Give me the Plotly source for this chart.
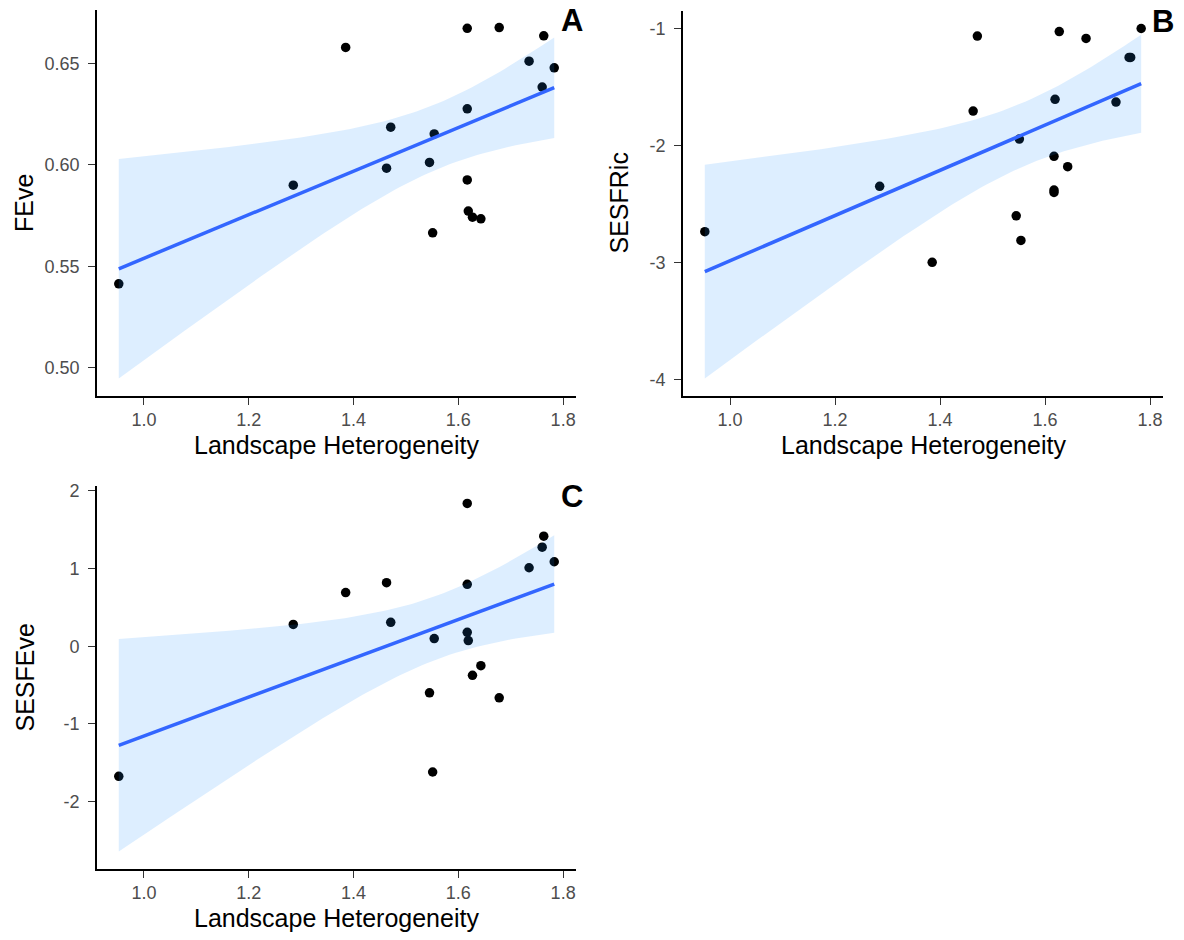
import numpy as np
import plotly.graph_objects as go

# ---------------- data ----------------
heterogeneity = [0.952, 1.285, 1.385, 1.463, 1.471, 1.545, 1.551, 1.554,
                 1.617, 1.617, 1.617, 1.619, 1.627, 1.643, 1.678, 1.735,
                 1.760, 1.763, 1.783]
feve = [0.5413, 0.5900, 0.6580, 0.5984, 0.6186, 0.6012, 0.5665, 0.6153,
        0.6674, 0.6277, 0.5926, 0.5772, 0.5742, 0.5734, 0.6678, 0.6512,
        0.6384, 0.6637, 0.6479]
sesfric = [-2.735, -2.348, -2.997, -1.705, -1.065, -2.600, -1.944, -2.810,
           -2.092, -2.380, -2.400, -1.605, -1.026, -2.180, -1.085, -1.628,
           -1.247, -1.247, -1.000]
sesfeve = [-1.675, 0.281, 0.690, 0.818, 0.307, -0.600, -1.619, 0.098,
           1.838, 0.797, 0.179, 0.073, -0.375, -0.251, -0.665, 1.010,
           1.275, 1.416, 1.087]

x_tickvals = [1.0, 1.2, 1.4, 1.6, 1.8]
x_ticktext = ["1.0", "1.2", "1.4", "1.6", "1.8"]
a_tickvals = [0.50, 0.55, 0.60, 0.65]
a_ticktext = ["0.50", "0.55", "0.60", "0.65"]
b_tickvals = [-4, -3, -2, -1]
b_ticktext = ["-4", "-3", "-2", "-1"]
c_tickvals = [-2, -1, 0, 1, 2]
c_ticktext = ["-2", "-1", "0", "1", "2"]

x_title = "Landscape Heterogeneity"
y_titles = ["FEve", "SESFRic", "SESFEve"]
panel_tags = ["A", "B", "C"]

T975 = 2.109816  # t quantile, df = 17

FONT = "Liberation Sans, Arial, sans-serif"


def lm_fit(x, y, n=80):
    x = np.asarray(x, float)
    y = np.asarray(y, float)
    b1, b0 = np.polyfit(x, y, 1)
    resid = y - (b0 + b1 * x)
    s = np.sqrt(np.sum(resid ** 2) / (len(x) - 2))
    sxx = np.sum((x - x.mean()) ** 2)
    xs = np.linspace(x.min(), x.max(), n)
    ys = b0 + b1 * xs
    se = s * np.sqrt(1 / len(x) + (xs - x.mean()) ** 2 / sxx)
    return xs, ys, ys - T975 * se, ys + T975 * se


def expand(lo, hi, f=0.05):
    d = (hi - lo) * f
    return [lo - d, hi + d]


fig = go.Figure()

series = [feve, sesfric, sesfeve]
tickv = [a_tickvals, b_tickvals, c_tickvals]
tickt = [a_ticktext, b_ticktext, c_ticktext]

W, H = 1184, 940
# panel boxes in pixels: left, right, top, bottom
boxes = [(97, 576, 10, 396), (683, 1163, 11, 396), (97, 576, 486, 869)]
ytitle_gap = [73, 64, 73]

layout = {}
annotations = []
for i, yv in enumerate(series):
    k = "" if i == 0 else str(i + 1)
    L, R, T, B = boxes[i]
    xs, ys, lo, hi = lm_fit(heterogeneity, yv)
    fig.add_trace(go.Scatter(x=heterogeneity, y=yv, mode="markers",
                             marker=dict(color="black", size=9.5),
                             xaxis="x" + k, yaxis="y" + k, showlegend=False,
                             hoverinfo="skip"))
    fig.add_trace(go.Scatter(x=np.concatenate([xs, xs[::-1]]),
                             y=np.concatenate([hi, lo[::-1]]),
                             fill="toself", fillcolor="rgba(30,144,255,0.15)",
                             line=dict(width=0), mode="lines",
                             xaxis="x" + k, yaxis="y" + k, showlegend=False,
                             hoverinfo="skip"))
    fig.add_trace(go.Scatter(x=xs, y=ys, mode="lines",
                             line=dict(color="#3366FF", width=3.5),
                             xaxis="x" + k, yaxis="y" + k, showlegend=False,
                             hoverinfo="skip"))

    xr = expand(min(heterogeneity), max(heterogeneity))
    yr = expand(min(min(yv), lo.min()), max(max(yv), hi.max()))
    axis_common = dict(showline=True, linecolor="black", linewidth=1.6,
                       showgrid=False, zeroline=False, ticks="outside",
                       ticklen=7, tickwidth=1.2, tickcolor="#333333",
                       automargin=False,
                       tickfont=dict(family=FONT, size=18, color="#4D4D4D"))
    layout["xaxis" + k] = dict(axis_common, domain=[L / W, R / W], range=xr,
                               anchor="y" + k, tickvals=x_tickvals,
                               ticktext=x_ticktext, ticklabelstandoff=0)
    layout["yaxis" + k] = dict(axis_common, domain=[1 - B / H, 1 - T / H],
                               range=yr, anchor="x" + k, tickvals=tickv[i],
                               ticktext=tickt[i], ticklabelstandoff=5)
    # axis titles
    annotations.append(dict(text=x_title, x=(L + R) / 2 / W, y=1 - (B + 49) / H,
                            xref="paper", yref="paper", xanchor="center",
                            yanchor="middle", showarrow=False,
                            font=dict(family=FONT, size=25, color="black")))
    annotations.append(dict(text=y_titles[i], x=(L - ytitle_gap[i]) / W,
                            y=1 - (T + B) / 2 / H,
                            xref="paper", yref="paper", xanchor="center",
                            yanchor="middle", showarrow=False, textangle=-90,
                            font=dict(family=FONT, size=25, color="black")))

tag_pos = [(571.5, 21), (1163, 22), (571.5, 496)]
for t, (ax, ay) in zip(panel_tags, tag_pos):
    annotations.append(dict(text="<b>" + t + "</b>", x=ax / W, y=1 - ay / H,
                            xref="paper", yref="paper", xanchor="center",
                            yanchor="middle", showarrow=False,
                            font=dict(family=FONT, size=31, color="black")))

fig.update_layout(**layout)
fig.update_layout(width=W, height=H, margin=dict(l=0, r=0, t=0, b=0),
                  paper_bgcolor="white", plot_bgcolor="white",
                  annotations=annotations, showlegend=False)

fig.write_html("out.html", config={"displayModeBar": False},
               post_script="document.body.style.margin='0px';")
